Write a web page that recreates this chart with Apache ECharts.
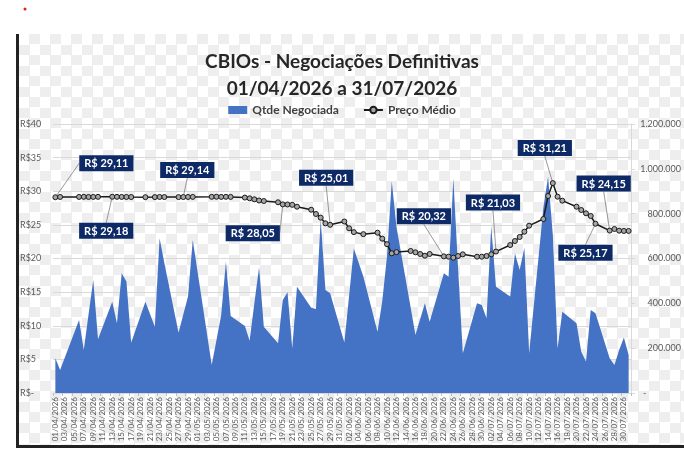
<!DOCTYPE html>
<html>
<head>
<meta charset="utf-8">
<script src="https://cdn.jsdelivr.net/npm/echarts@6/dist/echarts.min.js"></script>
<style>
    html, body { margin: 0; padding: 0; background: #fff; }
    #frame {
        position: absolute; left: 16px; top: 34px; width: 665px; height: 411px;
        border-left: 3px solid #222; border-bottom: 3px solid #222;
        background-color: #fff;
        background-image: conic-gradient(#eeeeee 25%, #ffffff 0 50%, #eeeeee 0 75%, #ffffff 0);
        background-size: 21px 21px;
    }
    #CbioContainer { position: absolute; left: 0; top: 0; width: 684px; height: 452px; }
</style>
</head>
<body>
<div id="frame"></div>
<div id="CbioContainer"></div>
<script>
// dias de pregão (dd/mm) e valores
var tradeDays = [
    '01/04', '02/04', '06/04', '07/04', '08/04', '09/04', '10/04', '13/04', '14/04', '15/04',
    '16/04', '17/04', '20/04', '22/04', '23/04', '24/04', '27/04', '28/04', '29/04', '30/04',
    '04/05', '05/05', '06/05', '07/05', '08/05', '11/05', '12/05', '13/05', '14/05', '15/05',
    '18/05', '19/05', '20/05', '21/05', '22/05', '25/05', '26/05', '27/05', '28/05', '29/05',
    '01/06', '02/06', '03/06', '05/06', '08/06', '09/06', '10/06', '11/06', '12/06', '15/06',
    '16/06', '17/06', '18/06', '19/06', '22/06', '23/06', '24/06', '25/06', '26/06', '29/06',
    '30/06', '01/07', '02/07', '03/07', '06/07', '07/07', '08/07', '09/07', '10/07', '13/07',
    '14/07', '15/07', '16/07', '17/07', '20/07', '21/07', '22/07', '23/07', '24/07', '27/07',
    '28/07', '29/07', '30/07', '31/07'
];

var qtdeNegociada = [
    155000, 103000, 326000, 192000, 350000, 504000, 240000, 407000, 311000, 534000,
    497000, 224000, 407000, 296000, 690000, 580000, 269000, 350000, 430000, 683000,
    125000, 235000, 348000, 586000, 343000, 299000, 233000, 400000, 561000, 296000,
    222000, 415000, 449000, 199000, 474000, 380000, 375000, 775000, 459000, 445000,
    225000, 434000, 645000, 520000, 273000, 410000, 610000, 945000, 740000, 380000,
    259000, 330000, 400000, 318000, 534000, 519000, 958000, 556000, 177000, 400000,
    393000, 333000, 742000, 474000, 430000, 623000, 549000, 648000, 177000, 825000,
    965000, 705000, 199000, 363000, 311000, 184000, 140000, 370000, 356000, 155000,
    125000, 192000, 248000, 170000
];

var precoMedio = [
    29.11, 29.15, 29.16, 29.17, 29.15, 29.16, 29.17, 29.18, 29.17, 29.16,
    29.15, 29.14, 29.12, 29.13, 29.15, 29.14, 29.13, 29.14, 29.15, 29.16,
    29.17, 29.18, 29.16, 29.17, 29.16, 29.06, 28.95, 28.80, 28.62, 28.55,
    28.36, 28.05, 28.03, 27.98, 27.70, 27.25, 26.62, 26.07, 25.23, 25.01,
    25.50, 24.49, 23.92, 23.62, 23.84, 22.95, 22.13, 20.77, 20.95, 21.12,
    20.92, 20.67, 20.42, 20.67, 20.32, 20.27, 20.12, 20.37, 20.62, 20.27,
    20.27, 20.37, 20.62, 21.03, 22.00, 22.60, 23.20, 23.99, 24.88, 25.87,
    29.29, 31.21, 29.19, 28.60, 27.70, 27.21, 26.72, 26.32, 25.17, 24.15,
    24.39, 24.14, 24.10, 24.10
];

// dias com rótulo de preço
var labelDays = ['01/04', '13/04', '28/04', '19/05', '29/05', '22/06', '03/07', '15/07', '24/07', '27/07'];

var leftTicks = ['R$-', 'R$5', 'R$10', 'R$15', 'R$20', 'R$25', 'R$30', 'R$35', 'R$40'];
var rightTicks = ['-', '200.000', '400.000', '600.000', '800.000', '1.000.000', '1.200.000'];

var monthDays = [['04', 30], ['05', 31], ['06', 30], ['07', 31]];

// deslocamento do centro do rótulo em relação ao ponto (px)
var labelOffset = {
    '01/04': [51, -34], '13/04': [-6, 34], '28/04': [4, -27], '19/05': [-30, 29],
    '29/05': [-4, -47], '22/06': [-20, -40], '03/07': [-3, -49], '15/07': [-8, -35],
    '24/07': [-10, 29], '27/07': [-6, -47]
};

function Set_Cbio_echarts() {
    var categories = [];
    monthDays.forEach(function (m) {
        for (var d = 1; d <= m[1]; d++) {
            categories.push((d < 10 ? '0' : '') + d + '/' + m[0] + '/2026');
        }
    });

    var qtdeData = categories.map(function () { return null; });
    var precoData = categories.map(function () { return null; });
    tradeDays.forEach(function (day, i) {
        var k = categories.indexOf(day + '/2026');
        qtdeData[k] = qtdeNegociada[i];
        if (labelDays.indexOf(day) >= 0) {
            precoData[k] = { value: precoMedio[i], label: { show: true } };
        } else {
            precoData[k] = precoMedio[i];
        }
    });

    var CbioContainer = document.getElementById('CbioContainer');
    var myChart_Cbio = echarts.init(CbioContainer, null, { renderer: 'canvas' });

    var option = {
        animation: false,
        backgroundColor: 'transparent',
        textStyle: { fontFamily: 'Lato' },
        title: {
            text: 'CBIOs - Negociações Definitivas\n01/04/2026 a 31/07/2026',
            left: 'center',
            top: 43,
            textStyle: {
                color: '#262626',
                fontSize: 19,
                fontWeight: 'bold',
                lineHeight: 27,
                fontFamily: 'Lato'
            }
        },
        legend: {
            top: 99,
            left: 'center',
            itemGap: 24,
            itemWidth: 19,
            itemHeight: 8,
            textStyle: { color: '#404040', fontSize: 12, fontWeight: 'bold', fontFamily: 'Lato' },
            data: [{ name: 'Qtde Negociada', icon: 'rect' }, { name: 'Preço Médio' }]
        },
        graphic: [
            { type: 'circle', shape: { cx: 25, cy: 9, r: 1.5 }, style: { fill: '#e02020' } }
        ],
        grid: { left: 53, right: 52, top: 124, bottom: 59 },
        xAxis: [
            {
                type: 'category',
                data: categories,
                boundaryGap: true,
                axisLine: { lineStyle: { color: '#d9d9d9' } },
                axisTick: { show: true, interval: 1, length: 3, lineStyle: { color: '#bfbfbf' } },
                axisLabel: { interval: 1, rotate: 90, fontSize: 8, color: '#595959', margin: 4 },
                splitLine: { show: false }
            }
        ],
        yAxis: [
            {
                type: 'value',
                min: 0,
                max: 40,
                interval: 5,
                position: 'left',
                axisLine: { show: false },
                axisTick: { show: false },
                splitLine: { show: true, lineStyle: { color: '#d9d9d9' } },
                axisLabel: {
                    formatter: function (v) { return leftTicks[Math.round(v / 5)]; },
                    align: 'left',
                    margin: 33,
                    fontSize: 9,
                    color: '#595959'
                }
            },
            {
                type: 'value',
                min: 0,
                max: 1200000,
                interval: 200000,
                position: 'right',
                axisLine: { show: true, lineStyle: { color: '#d9d9d9' } },
                axisTick: { show: true, length: 4, lineStyle: { color: '#d9d9d9' } },
                splitLine: { show: false },
                axisLabel: {
                    formatter: function (v) {
                        var t = rightTicks[Math.round(v / 200000)];
                        return v === 0 ? '{d|' + t + '}' : t;
                    },
                    rich: { d: { width: 38, align: 'left', fontSize: 9, color: '#595959' } },
                    align: 'right',
                    margin: 50,
                    fontSize: 9,
                    color: '#595959'
                }
            }
        ],
        series: [
            {
                name: 'Qtde Negociada',     // quantidade
                type: 'line',
                yAxisIndex: 1,
                data: qtdeData,
                connectNulls: true,
                symbol: 'none',
                lineStyle: { width: 0 },
                itemStyle: { color: '#4472c4' },
                areaStyle: { color: '#4472c4', opacity: 1 },
                z: 1
            },
            {
                name: 'Preço Médio',       // preço médio
                type: 'line',
                yAxisIndex: 0,
                data: precoData,
                connectNulls: true,
                symbol: 'circle',
                symbolSize: 5,
                showAllSymbol: true,
                lineStyle: { color: '#1a1a1a', width: 1.5 },
                itemStyle: { color: '#a6a6a6', borderColor: '#1a1a1a', borderWidth: 1 },
                label: {
                    show: false,
                    position: 'top',
                    formatter: function (p) {
                        return 'R$ ' + p.value.toFixed(2).replace('.', ',');
                    },
                    backgroundColor: '#0e2a66',
                    color: '#fff',
                    fontWeight: 'bold',
                    fontSize: 11,
                    padding: [3, 5, 2, 5]
                },
                labelLine: { show: true, lineStyle: { color: '#7f7f7f', width: 0.8 } },
                labelLayout: function (p) {
                    var off = labelOffset[categories[p.dataIndex].slice(0, 5)];
                    if (!off || !p.rect || !p.labelRect) {
                        return {};
                    }
                    var sx = p.rect.x + p.rect.width / 2;
                    var sy = p.rect.y + p.rect.height / 2;
                    var lx = p.labelRect.x + p.labelRect.width / 2;
                    var ly = p.labelRect.y + p.labelRect.height / 2;
                    return { dx: sx + off[0] - lx, dy: sy + off[1] - ly };
                },
                z: 3
            }
        ]
    };

    if (option && typeof option === 'object') {
        myChart_Cbio.setOption(option);
    }

    window.addEventListener('resize', myChart_Cbio.resize);
}

Set_Cbio_echarts();
</script>
</body>
</html>
